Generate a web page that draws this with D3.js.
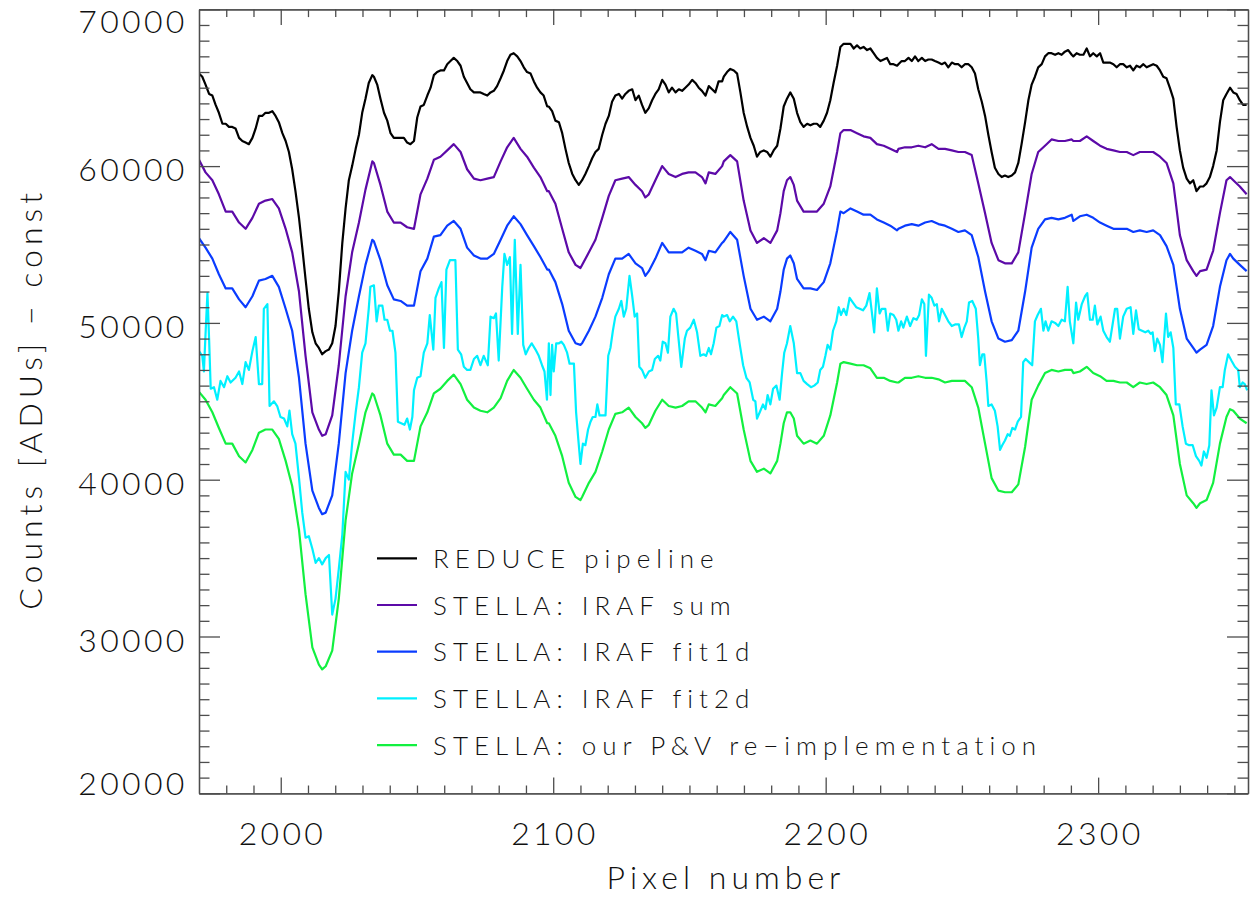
<!DOCTYPE html>
<html>
<head>
<meta charset="utf-8">
<title>Extraction comparison</title>
<script src="https://cdn.jsdelivr.net/npm/d3@7"></script>
<style>
  body { margin: 0; background: #fff; }
  text { font-family: Lato, "DejaVu Sans", sans-serif; font-weight: 300; fill: #111; }
  .axis .domain, .axis line { stroke: #4d4d4d; stroke-width: 1.3; }
  .line { fill: none; stroke-width: 2.2; stroke-linejoin: round; }
</style>
</head>
<body>
<div id="chart-area"></div>
<script>
/*
*    Pixel number vs counts for five extraction methods
*/

// ---- data ----
var seriesNames = ["REDUCE pipeline", "STELLA: IRAF sum", "STELLA: IRAF fit1d",
                   "STELLA: IRAF fit2d", "STELLA: our P\u0026V re\u2212implementation"];
var seriesColors = ["#000000", "#5c0aa8", "#0a3cff", "#00f0ff", "#12f040"];
var xTickValues = [2000, 2100, 2200, 2300];
var yTickValues = [20000, 30000, 40000, 50000, 60000, 70000];

var pixReduce = [
  1970.0,1971.2,1972.4,1973.7,1974.9,1976.1,1977.3,1978.6,1979.8,1981.0,1982.2,1983.4,1984.7,1985.9,1987.1,1988.3,1989.6,1990.8,1992.0,1993.2,1994.4,1995.7,1996.9,1998.1,1999.3,2000.6,2001.8,2003.0,2004.2,2005.4,2006.7,2007.9,2009.1,2010.3,2011.6,2012.8,2014.0,2015.2,2016.5,2017.7,2018.9,2020.1,2021.3,2022.6,2023.8,2025.0,2026.2,2027.5,2028.7,2029.9,2031.1,2032.3,2033.6,
  2034.2,2035.4,2036.6,2037.9,2039.1,2040.3,2041.5,2042.8,2044.0,2045.2,2046.4,2047.6,2048.9,2050.1,2051.3,2052.5,2053.8,2055.0,2056.2,2057.4,2058.6,2059.9,2061.1,2062.3,2063.5,2064.8,2066.0,2067.2,2068.4,2069.6,2070.9,2072.1,2073.3,2074.5,2075.8,2077.0,2078.2,2079.4,2080.7,2081.9,2083.1,2084.3,2085.5,2086.8,2088.0,2089.2,2090.4,2091.7,2092.9,2094.1,2095.3,2096.5,2097.8,
  2098.4,2099.6,2100.8,2102.1,2103.3,2104.5,2105.7,2107.0,2108.2,2109.4,2110.6,2111.8,2113.1,2114.3,2115.5,2116.7,2118.0,2119.2,2120.4,2121.6,2122.8,2124.1,2125.3,2126.5,2127.7,2129.0,2130.2,2131.4,2132.6,2133.8,2135.1,2136.3,2137.5,2138.7,2140.0,2141.2,2142.4,2143.6,2144.9,2146.1,2147.3,2148.5,2149.7,2151.0,2152.2,2153.4,2154.6,2155.9,2157.1,2158.3,2159.5,2160.7,2162.0,
  2162.6,2163.8,2165.0,2166.3,2167.5,2168.7,2169.9,2171.2,2172.4,2173.6,2174.8,2176.0,2177.3,2178.5,2179.7,2180.9,2182.2,2183.4,2184.6,2185.8,2187.0,2188.3,2189.5,2190.7,2191.9,2193.2,2194.4,2195.6,2196.8,2198.0,2199.3,2200.5,2201.7,2202.9,2204.2,2205.4,2206.6,2207.8,2209.1,2210.3,2211.5,2212.7,2213.9,2215.2,2216.4,2217.6,2218.8,2220.1,2221.3,2222.5,2223.7,2224.9,2226.2,
  2226.7,2227.9,2229.1,2230.4,2231.6,2232.8,2234.0,2235.3,2236.5,2237.7,2238.9,2240.1,2241.4,2242.6,2243.8,2245.0,2246.3,2247.5,2248.7,2249.9,2251.1,2252.4,2253.6,2254.8,2256.0,2257.3,2258.5,2259.7,2260.9,2262.1,2263.4,2264.6,2265.8,2267.0,2268.3,2269.5,2270.7,2271.9,2273.2,2274.4,2275.6,2276.8,2278.0,2279.3,2280.5,2281.7,2282.9,2284.2,2285.4,2286.6,2287.8,2289.0,2290.3,
  2290.9,2292.1,2293.3,2294.6,2295.8,2297.0,2298.2,2299.5,2300.7,2301.9,2303.1,2304.3,2305.6,2306.8,2308.0,2309.2,2310.5,2311.7,2312.9,2314.1,2315.3,2316.6,2317.8,2319.0,2320.2,2321.5,2322.7,2323.9,2325.1,2326.3,2327.6,2328.8,2330.0,2331.2,2332.5,2333.7,2334.9,2336.1,2337.4,2338.6,2339.8,2341.0,2342.2,2343.5,2344.7,2345.9,2347.1,2348.4,2349.6,2350.8,2352.0,2353.2,2354.5
];
var cntReduce = [
  65900,65700,65200,64600,64500,63900,63400,62700,62700,62500,62500,62400,61800,61600,61500,61400,61800,62400,63200,63200,63400,63400,63500,63200,62800,62100,61600,60900,59800,58400,56700,54800,52800,50900,49400,48700,48400,48000,48200,48300,48700,49800,52000,55100,57300,59100,60000,61100,62000,63400,64300,65300,65800,
  65700,65200,64300,63400,62900,62100,61800,61800,61800,61800,61500,61400,61600,63100,63800,63900,64500,65000,65800,66000,66100,66100,66500,66700,66900,66700,66400,65700,65300,64900,64700,64700,64700,64600,64500,64700,64800,65100,65600,66100,66700,67100,67200,67000,66700,66300,66000,65900,65400,65000,64700,64500,63800,
  63800,63500,62900,62800,62100,61100,60200,59500,59100,58800,59100,59500,60000,60500,60900,61100,62000,62700,63200,64100,64500,64600,64300,64600,64800,64900,64200,64500,63900,63400,63700,64200,64600,64900,65500,65200,64700,65000,64700,64900,64800,65000,65200,65500,65300,65000,64800,64500,65100,64900,64700,65400,65400,
  65700,66000,66200,66100,65900,64700,63400,62500,61800,61300,60600,60900,61000,60900,60600,61000,61300,62400,63800,64300,64700,64300,63400,62800,62500,62700,62600,62700,62700,62500,62900,63400,64200,65300,66400,67600,67800,67800,67800,67500,67700,67500,67600,67400,67500,67200,66900,66700,66800,66900,66500,66500,66400,
  66500,66700,66700,66900,66700,67000,66700,66900,66700,66800,66800,66700,66600,66500,66600,66300,66600,66500,66500,66300,66500,66500,66300,65900,64900,64100,63200,62000,60900,59900,59500,59300,59400,59300,59400,59600,60200,61400,62800,64200,65200,65700,66300,66500,67000,67200,67200,67100,67200,67100,67300,67400,67100,
  67000,67200,67100,67100,67500,67000,67200,67000,67200,66600,66600,66600,66500,66300,66500,66500,66300,66400,66100,66400,66300,66500,66300,66400,66500,66400,66100,65700,65600,65000,64300,62500,61000,59900,59200,58900,59100,58400,58700,58700,58900,59300,60000,61000,62800,64200,64600,65000,64700,64600,64200,63900,63900
];

// shared pixel grid for the three smooth STELLA curves
var pixSmooth = [
  1970.0,1972.4,1974.9,1977.3,1979.8,1982.2,1984.7,1987.1,1989.6,1992.0,1994.4,1996.9,1999.3,2001.8,2004.2,2006.7,2009.1,2011.6,2014.0,2015.2,2016.5,2018.9,2021.3,2023.8,2026.2,2028.7,2031.1,2033.6,
  2034.2,2036.6,2039.1,2041.5,2044.0,2046.4,2048.9,2051.3,2053.8,2056.2,2058.6,2061.1,2063.5,2066.0,2068.4,2070.9,2073.3,2075.8,2078.2,2080.7,2083.1,2085.5,2088.0,2090.4,2092.9,2095.3,2097.8,
  2098.4,2100.8,2103.3,2105.7,2108.2,2110.0,2110.6,2113.1,2115.5,2118.0,2120.4,2122.8,2125.3,2127.7,2130.2,2132.6,2133.8,2135.1,2137.5,2140.0,2142.4,2144.9,2147.3,2149.7,2152.2,2154.6,2155.9,2157.1,2159.5,2162.0,
  2162.6,2165.0,2167.5,2169.9,2172.4,2174.8,2177.3,2179.7,2182.2,2183.4,2184.6,2185.8,2187.0,2188.3,2189.5,2191.9,2194.4,2196.8,2199.3,2201.7,2204.2,2205.4,2206.6,2209.1,2211.5,2213.9,2216.4,2218.8,2221.3,2223.7,2226.2,
  2226.7,2229.1,2231.6,2234.0,2236.5,2238.9,2241.4,2243.8,2246.3,2248.7,2251.1,2253.6,2256.0,2258.5,2260.9,2263.4,2265.8,2268.3,2270.7,2273.2,2275.6,2278.0,2280.5,2282.9,2285.4,2287.8,2290.3,
  2290.9,2293.3,2295.8,2298.2,2300.7,2303.1,2305.6,2308.0,2310.5,2312.9,2315.3,2317.8,2320.2,2322.7,2325.1,2327.6,2330.0,2332.5,2334.9,2336.1,2337.4,2339.8,2342.2,2344.7,2347.1,2348.4,2349.6,2352.0,2354.5
];
var cntSum = [
  60400,59600,59100,58200,57100,57100,56400,56000,56700,57600,57800,57900,57300,56000,54500,52000,47900,44300,43200,42800,42900,44100,47300,51700,54500,56400,58500,60300,
  60200,58800,57100,56400,56400,56100,56000,58200,59200,60400,60600,61000,61400,60900,59800,59200,59100,59200,59300,60300,61200,61800,61100,60600,59900,59300,58400,
  58400,57600,56000,54500,53700,53500,53700,54500,55300,56700,58100,59100,59200,59300,58800,58400,58000,58200,59100,60000,59500,59300,59500,59600,59600,59300,58900,59600,59500,60000,
  60300,60700,60300,57800,55900,55100,55400,55100,55900,57000,58400,59100,59300,58800,57800,57100,57100,57100,57600,58700,60900,62100,62300,62300,62100,61900,61800,61400,61300,61100,60900,
  61100,61200,61200,61300,61200,61400,61100,61100,61000,60900,60900,60700,58900,57000,55100,54000,53800,53800,54500,57000,59500,60900,61300,61700,61600,61600,61700,
  61600,61600,61900,61600,61300,61100,61000,60900,60900,60700,60900,60900,60900,60600,60200,58900,55600,54000,53300,53000,53300,53400,54600,57000,59100,59300,59100,58700,58200
];
var cntFit1d = [
  55400,54800,54100,53100,52200,52200,51500,51000,51700,52700,52800,53000,52300,50900,49500,46500,42300,39300,38200,37800,37900,39000,42300,46800,49500,51700,53700,55300,
  55200,54000,52400,51500,51400,51100,51100,53300,54100,55500,55600,56200,56500,56000,54800,54300,54100,54100,54400,55300,56200,56800,56300,55600,54900,54200,53400,
  53400,52600,51200,49500,48700,48600,48700,49500,50400,51600,53100,54100,54100,54400,53800,53500,53000,53300,54100,55100,54500,54500,54500,54800,54600,54400,54000,54600,54500,55100,
  55200,55800,55300,53000,50900,50200,50400,50100,50900,52000,53400,54100,54300,53800,52800,52200,52200,52100,52600,53800,55900,57100,57000,57300,57100,56900,56900,56600,56400,56200,55900,
  56000,56200,56300,56200,56400,56500,56300,56200,56000,55800,55900,55600,54200,52000,50100,49000,48800,48900,49500,52000,54800,56000,56600,56700,56600,56700,56900,
  56500,56800,56900,56700,56400,56200,56000,56000,56000,55800,55900,55800,55900,55600,54900,53700,50900,49000,48400,48100,48300,48600,49800,52300,54000,54400,54100,53700,53300
];
var cntPV = [
  45600,45100,44300,43300,42300,42300,41500,41100,41900,43000,43200,43200,42600,41200,39600,36800,32700,29300,28200,27900,28100,29100,32400,37400,40400,42300,44300,45500,
  45400,44100,42300,41600,41600,41200,41200,43400,44300,45500,45800,46300,46700,46100,45100,44600,44400,44300,44600,45200,46300,47000,46500,45800,45100,44600,43600,
  43600,42800,41500,39800,38900,38700,38900,39800,40500,41800,43200,44200,44300,44600,44000,43600,43300,43500,44400,45100,44700,44600,44700,45000,45000,44600,44300,44800,44700,45200,
  45400,45900,45500,43200,41200,40500,40700,40400,41200,42300,43600,44300,44300,43900,42800,42300,42500,42300,42800,44100,46200,47400,47500,47400,47300,47300,47100,46500,46500,46300,46200,
  46200,46500,46500,46600,46500,46500,46400,46200,46300,46300,46300,45900,44600,42300,40100,39300,39200,39200,39700,42100,45100,46000,46800,47000,46900,47000,47000,
  46800,46900,47200,46800,46600,46300,46300,46200,46200,45900,46200,46100,46200,45900,45400,44100,41000,39000,38500,38200,38500,38700,39800,42300,44000,44500,44400,43900,43600
];

// fit2d is spiky, so it gets its own, irregular pixel list
var pixFit2d = [
  1970.0,1971.2,1971.8,1972.4,1973.1,1973.7,1974.3,1975.5,1976.7,1977.9,1979.2,1980.4,1981.6,1983.4,1984.7,1985.9,1987.1,1988.3,1989.6,1990.8,1992.0,1993.2,1993.8,1995.1,1995.9,1997.5,1998.7,1999.9,2001.2,2002.4,2003.2,2004.2,2005.4,2006.7,2007.9,2009.1,2010.3,2011.6,2012.8,2014.0,2015.2,2016.5,2017.7,2018.9,2020.1,2021.3,2022.6,2023.8,2025.0,2026.2,2027.5,2028.7,2029.9,2031.1,2032.3,2032.9,
  2034.2,2035.2,2036.0,2037.3,2038.1,2039.1,2040.1,2041.0,2042.1,2043.0,2044.2,2045.4,2046.4,2047.4,2048.3,2048.9,2050.1,2051.3,2052.5,2053.8,2054.7,2056.0,2056.8,2058.0,2059.0,2059.9,2060.8,2062.1,2063.3,2064.1,2065.0,2066.2,2067.2,2068.4,2069.6,2070.9,2072.1,2073.3,2074.5,2076.0,2077.0,2078.2,2079.0,2080.0,2081.3,2082.1,2083.1,2084.1,2084.9,2085.9,2087.0,2088.0,2089.0,2089.9,2091.0,2092.1,2093.5,2094.7,2095.9,2096.8,2097.7,
  2098.4,2099.0,2099.6,2100.2,2101.1,2102.1,2103.0,2103.9,2105.1,2106.0,2107.6,2108.4,2109.2,2110.0,2110.9,2111.8,2112.8,2113.7,2114.5,2115.5,2116.2,2117.0,2118.0,2119.2,2120.2,2121.0,2121.9,2122.8,2124.1,2125.0,2125.9,2126.8,2128.0,2129.0,2129.9,2130.8,2131.6,2132.6,2133.8,2135.1,2136.3,2137.3,2138.5,2139.3,2140.2,2141.2,2142.1,2143.0,2144.2,2145.1,2146.1,2147.0,2148.3,2149.1,2150.3,2151.6,2152.8,2154.0,2155.2,2156.1,2157.1,2157.9,2158.9,2159.9,2161.0,2162.0,
  2162.6,2163.8,2164.8,2166.0,2167.2,2168.5,2169.7,2170.9,2172.1,2173.4,2174.2,2174.8,2175.8,2177.0,2177.9,2178.7,2179.7,2180.7,2181.9,2183.1,2184.0,2184.8,2185.8,2187.0,2188.3,2189.5,2190.7,2191.9,2193.2,2194.6,2195.8,2197.1,2198.0,2199.0,2199.9,2200.7,2201.7,2202.7,2203.9,2204.8,2205.6,2206.6,2207.6,2208.8,2210.0,2211.2,2212.5,2213.7,2214.9,2216.1,2217.0,2217.8,2218.8,2219.8,2220.6,2221.9,2222.8,2223.7,2224.9,2225.9,
  2226.7,2227.7,2228.5,2229.8,2231.0,2232.2,2233.4,2234.3,2235.3,2236.2,2236.8,2237.9,2238.9,2239.9,2240.8,2241.6,2242.6,2243.8,2245.0,2246.3,2247.5,2248.9,2249.9,2250.9,2251.8,2252.6,2253.8,2255.1,2256.0,2256.6,2257.5,2258.2,2259.1,2259.7,2260.9,2262.1,2263.1,2264.0,2264.8,2265.8,2266.8,2267.6,2268.5,2269.5,2270.5,2271.7,2272.5,2273.4,2274.6,2275.8,2276.8,2277.8,2279.0,2279.9,2280.7,2281.7,2282.9,2284.2,2285.4,2286.6,2287.8,2288.8,2289.6,
  2290.9,2291.9,2292.7,2294.0,2295.2,2296.0,2297.0,2298.0,2298.8,2299.7,2300.9,2301.9,2303.1,2304.3,2305.3,2306.2,2307.0,2308.0,2309.2,2310.5,2311.9,2312.9,2313.9,2314.9,2316.1,2317.3,2318.4,2319.3,2320.0,2320.8,2321.7,2322.7,2323.6,2324.9,2325.7,2326.6,2327.6,2328.5,2329.8,2331.0,2332.2,2333.4,2334.7,2335.9,2337.1,2337.9,2338.8,2339.8,2340.8,2341.6,2342.5,2343.5,2344.7,2345.7,2346.5,2347.7,2348.9,2350.2,2351.4,2352.0,2353.0,2353.8,2354.7
];
var cntFit2d = [
  48200,47900,46900,49300,51900,49000,45800,45900,45100,46300,45900,46600,46200,46500,46900,46100,47500,47000,48200,49100,46100,46100,50900,51200,44700,45000,44700,44000,43900,43400,44400,42900,42300,40100,37900,36300,36400,35600,34700,35000,34600,35000,35200,31400,32400,34300,36500,40500,40000,42300,44300,45900,48100,48700,50900,52300,
  52400,50100,51100,51100,50200,50200,49500,49500,48100,43700,43600,43500,43900,43200,44000,45700,46500,46600,48100,48700,50500,48300,51600,52200,52600,48400,53400,54000,54000,54000,48300,48000,47200,47000,47000,47700,47900,47300,47900,47300,50400,50300,50600,47600,52300,54400,53700,54200,49300,55300,49300,53700,48600,48000,48400,48700,48300,47900,47300,46900,45100,
  48700,45400,48600,46900,48700,48700,48800,48600,48100,47400,47400,44300,42600,41000,42300,42200,43200,43700,44000,44000,44800,44100,44100,44100,47900,48400,49500,50400,50900,51400,50400,50900,53000,51700,50400,50600,47200,47000,46500,46900,47000,47700,47900,47600,48800,48700,48100,50400,50900,50600,48800,47200,49000,49500,49700,50200,49400,47900,48000,47900,48400,48000,48700,49700,49800,50500,
  50400,50500,50100,50400,50100,48600,47300,46500,46200,45100,45000,43900,44300,44800,44500,45400,44800,45800,46000,45100,46800,48100,48700,49800,48700,46800,46800,46300,46100,45900,46000,46200,47000,47200,47900,48600,48300,49500,50100,51000,50500,50900,50500,51600,51300,51000,50900,50800,51100,51900,50600,49400,52200,50600,50900,50900,49500,50600,50500,50200,
  49500,50100,49700,50400,49800,50300,50200,50500,51500,51200,47900,51800,51600,51100,51200,50100,50900,50500,50100,49800,49900,49900,49100,49700,50100,51300,51400,50900,49000,47300,48000,48000,46200,44700,44800,44400,43400,41900,42200,42500,42900,42800,43300,43200,43700,44000,47500,47700,47500,47300,50100,50500,50900,49500,50100,49500,50100,50000,49800,50200,50100,52300,50100,
  48700,51300,50200,51200,51700,51900,50200,50200,51100,49900,50400,49500,49100,48800,49900,50900,50900,49000,50400,50900,51000,49300,50800,49600,49500,49400,49500,49300,49400,48200,49000,48600,47500,50600,49100,49400,48400,44800,44800,43400,42300,42200,42200,41500,41200,40900,41800,41400,42200,45700,44100,44600,45900,45900,47000,48000,47600,47200,47000,45900,46200,46100,45700
];

// ---- layout ----
var margin = { left:199, right:5, top:9.3, bottom:105.7 },
    width = 1253 - margin.left - margin.right,
    height = 899 - margin.top - margin.bottom;

var svg = d3.select("#chart-area").append("svg")
    .attr("width", 1253)
    .attr("height", 899);

var g = svg.append("g")
    .attr("transform", "translate(" + margin.left + "," + margin.top + ")");

// Scales
var x = d3.scaleLinear().domain([1970, 2355]).range([0, width]);
var y = d3.scaleLinear().domain([20000, 70000]).range([height, 0]);

g.append("clipPath").attr("id", "plot-clip")
  .append("rect").attr("width", width).attr("height", height);

// Lines
var series = [
    { pix: pixReduce, cnt: cntReduce },
    { pix: pixSmooth, cnt: cntSum },
    { pix: pixSmooth, cnt: cntFit1d },
    { pix: pixFit2d,  cnt: cntFit2d },
    { pix: pixSmooth, cnt: cntPV }
];
series.forEach(function(s, i) { s.name = seriesNames[i]; s.color = seriesColors[i]; });

var line = d3.line()
    .x(function(d) { return x(d[0]); })
    .y(function(d) { return y(d[1]); });

g.selectAll(".line")
    .data(series)
  .enter().append("path")
    .attr("class", "line")
    .attr("clip-path", "url(#plot-clip)")
    .attr("stroke", function(d) { return d.color; })
    .attr("d", function(d) { return line(d3.zip(d.pix, d.cnt)); });

// Frame: inward ticks on all four sides, IDL style
var xMinor = d3.range(1980, 2355, 10).filter(function(v) { return v % 100 !== 0; });
var yMinor = d3.range(21000, 70000, 1000).filter(function(v) { return v % 10000 !== 0; });

function addAxis(gen, scale, shift, major, minor, majorLen, minorLen) {
    var ga = g.append("g").attr("class", "axis").attr("transform", shift);
    ga.append("g").call(gen(scale).tickValues(minor).tickSize(-minorLen).tickSizeOuter(0).tickFormat(""));
    ga.append("g").call(gen(scale).tickValues(major).tickSize(-majorLen).tickSizeOuter(0).tickFormat(""));
}
addAxis(d3.axisBottom, x, "translate(0," + height + ")", xTickValues, xMinor, 15.7, 7.8);
addAxis(d3.axisTop, x, "translate(0,0)", xTickValues, xMinor, 15.7, 7.8);
addAxis(d3.axisLeft, y, "translate(0,0)", yTickValues, yMinor, 21, 10.5);
addAxis(d3.axisRight, y, "translate(" + width + ",0)", yTickValues, yMinor, 21, 10.5);

// Tick labels
var labelLs = 3.3;
g.selectAll(".x-lab")
    .data(xTickValues)
  .enter().append("text")
    .attr("class", "x-lab")
    .attr("x", function(d) { return x(d) + labelLs / 2; })
    .attr("y", height + 51.7)
    .attr("text-anchor", "middle")
    .style("font-size", "32px")
    .style("letter-spacing", labelLs + "px")
    .text(function(d) { return d; });

// end labels are pulled inside the axis range like the original
g.selectAll(".y-lab")
    .data(yTickValues)
  .enter().append("text")
    .attr("class", "y-lab")
    .attr("x", -14.7 + labelLs)
    .attr("y", function(d) { return Math.min(Math.max(y(d) + 15.4, 23.7), height + 1.7); })
    .attr("text-anchor", "end")
    .style("font-size", "32px")
    .style("letter-spacing", labelLs + "px")
    .text(function(d) { return d; });

// Axis titles
g.append("text")
    .attr("x", width / 2 + 2.5)
    .attr("y", 879.7)
    .attr("text-anchor", "middle")
    .style("font-size", "32px")
    .style("letter-spacing", "5px")
    .text("Pixel number");

g.append("text")
    .attr("transform", "translate(-157.3," + (height / 2 - 2.5) + ") rotate(-90)")
    .attr("text-anchor", "middle")
    .style("font-size", "32px")
    .style("letter-spacing", "5px")
    .text("Counts [ADUs] \u2212 const");

// Legend
var legend = g.append("g")
    .attr("transform", "translate(178,549)");

var rows = legend.selectAll(".leg")
    .data(series)
  .enter().append("g")
    .attr("class", "leg")
    .attr("transform", function(d, i) { return "translate(0," + (i * 46.7) + ")"; });

rows.append("line")
    .attr("x1", 0).attr("x2", 40)
    .attr("stroke", function(d) { return d.color; })
    .attr("stroke-width", 2.2);

rows.append("text")
    .attr("x", 56)
    .attr("y", 9.5)
    .style("font-size", "26px")
    .style("letter-spacing", "6px")
    .text(function(d) { return d.name; });
</script>
</body>
</html>
